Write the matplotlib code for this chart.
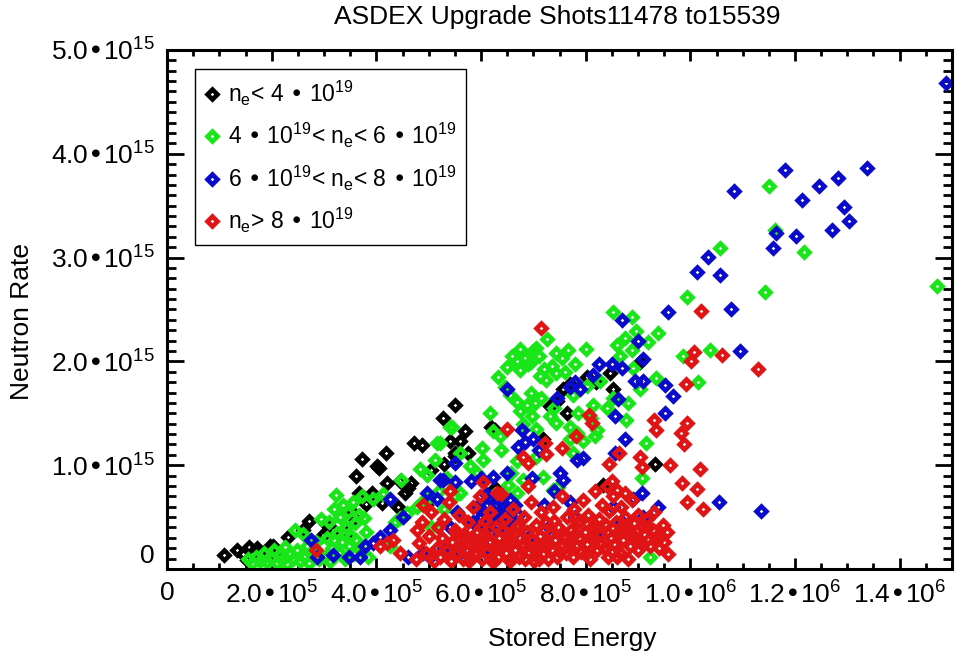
import matplotlib
matplotlib.use("Agg")
import matplotlib.pyplot as plt
import matplotlib.transforms as mtransforms
from matplotlib.ticker import FixedLocator, MultipleLocator, FixedFormatter

plt.rcParams['font.family'] = ['Liberation Sans', 'DejaVu Sans']
plt.rcParams['mathtext.default'] = 'regular'

# stored energy in units of 1e5, neutron rate in units of 1e15
black_w = [1.08, 1.33, 1.45, 1.52, 1.57, 1.71, 1.74, 1.90, 2.03, 2.06, 1.78, 1.97, 2.32, 2.60, 2.71,
           2.99, 3.04, 3.18, 3.43, 3.51, 3.59, 3.61, 3.73, 3.81, 4.01, 4.06, 4.10, 4.18, 4.20, 4.42,
           4.55, 4.61, 4.67, 4.71, 4.87, 3.67, 3.91, 4.45, 5.27, 5.50, 5.41, 5.50, 5.30, 5.50, 5.60,
           5.69, 5.76, 6.20, 6.27, 6.27, 7.19, 7.32, 7.57, 7.64, 8.02, 8.46, 8.53, 9.04, 9.32, 8.34,
           7.45, 7.70, 8.20, 5.05, 4.95]
black_n = [0.13, 0.18, 0.14, 0.09, 0.21, 0.20, 0.18, 0.17, 0.22, 0.15, 0.14, 0.22, 0.31, 0.38, 0.46,
           0.33, 0.43, 0.38, 0.35, 0.56, 0.48, 0.90, 1.06, 0.63, 0.99, 0.97, 0.64, 1.12, 0.83, 0.60,
           0.73, 0.78, 0.83, 1.21, 1.19, 0.73, 0.73, 0.85, 1.45, 1.58, 1.23, 1.09, 1.01, 1.12, 1.23,
           1.33, 1.12, 1.37, 1.34, 0.78, 1.25, 1.57, 1.73, 1.50, 1.85, 1.89, 1.73, 1.99, 1.01, 0.81,
           1.62, 1.78, 1.80, 0.95, 0.62]

green_w = [1.55, 1.62, 1.70, 1.78, 1.85, 1.92, 1.98, 2.05, 2.10, 2.15, 2.20, 2.25, 2.30, 2.35, 2.40,
           2.45, 2.48, 2.55, 2.60, 2.62, 2.68, 2.72, 2.78, 2.85, 2.90, 2.95,
           3.02, 3.06, 3.10, 3.12, 3.16, 3.20, 3.23, 3.25, 3.28, 3.30, 3.34, 3.36, 3.40, 3.42, 3.45,
           3.48, 3.52, 3.55, 3.58, 3.60, 3.62, 3.66, 3.70, 3.72, 3.76, 3.80, 3.85, 3.94, 4.12,
           4.26, 4.35, 4.45, 4.48, 4.58, 4.77, 4.83, 4.85, 4.96, 4.96, 5.05, 5.12, 5.15, 5.20, 5.30,
           5.35, 5.44, 5.50,
           6.33, 6.68, 6.84, 6.90, 6.74, 7.00, 7.06, 7.26, 7.13, 7.25, 7.44, 7.67, 8.00, 7.79, 7.44,
           6.68, 6.87, 7.03, 6.74, 6.97, 6.17, 6.23, 6.36, 6.01, 6.39, 6.04, 5.60, 5.41, 5.21, 7.32,
           7.44, 7.70, 7.83, 7.95, 8.14, 8.21, 8.18, 7.70, 7.76, 7.06, 6.68, 6.58, 6.81, 7.19, 7.38,
           6.52, 8.78, 8.53, 9.35, 9.16, 9.07, 9.23, 8.89, 8.53, 8.97, 9.39, 9.19, 8.59, 8.65, 8.91,
           9.04, 8.27, 8.02, 7.76, 8.75, 8.88, 5.79, 5.92, 5.60, 6.23, 6.68, 7.47,
           6.50, 6.60, 6.75, 6.95, 7.10, 7.20, 7.35, 7.55, 7.60, 6.45, 6.55, 6.95, 7.15, 7.40, 7.85,
           8.10, 8.40, 8.80, 6.80, 7.05,
           11.50, 11.61, 12.18, 10.57, 9.93, 11.43, 14.72, 10.37, 9.86, 10.14]
green_n = [0.10, 0.06, 0.12, 0.08, 0.15, 0.07, 0.11, 0.18, 0.06, 0.13, 0.09, 0.21, 0.05, 0.14, 0.10,
           0.38, 0.18, 0.08, 0.34, 0.12, 0.22, 0.06, 0.16, 0.26, 0.10, 0.48,
           0.12, 0.30, 0.45, 0.08, 0.20, 0.58, 0.71, 0.35, 0.15, 0.50, 0.26, 0.62, 0.10, 0.40, 0.55,
           0.22, 0.32, 0.65, 0.14, 0.44, 0.28, 0.52, 0.18, 0.70, 0.49, 0.36, 0.12, 0.67, 0.72,
           0.22, 0.45, 0.49, 0.86, 0.54, 0.60, 0.96, 0.64, 0.91, 0.67, 0.40, 1.05, 1.21, 0.75, 0.58,
           0.88, 1.37, 0.70,
           1.85, 2.00, 2.03, 1.97, 1.92, 2.10, 2.13, 2.22, 1.86, 1.82, 2.08, 2.11, 2.12, 1.97, 1.89,
           1.61, 1.58, 1.60, 1.52, 1.47, 1.50, 1.33, 1.28, 1.17, 1.15, 1.05, 1.12, 1.37, 1.21, 1.47,
           1.41, 1.37, 1.31, 1.23, 1.58, 1.34, 1.28, 1.25, 1.12, 1.08, 1.04, 0.92, 0.86, 0.89, 0.76,
           0.81, 1.44, 1.65, 1.84, 1.21, 0.88, 0.12, 2.43, 2.48, 2.29, 2.27, 2.19, 2.16, 2.05, 1.94,
           1.73, 1.81, 1.76, 1.68, 2.23, 2.11, 0.99, 0.92, 0.73, 0.70, 0.73, 0.79,
           1.95, 2.05, 2.12, 1.99, 2.05, 1.93, 1.96, 2.03, 1.90, 1.75, 1.68, 1.70, 1.65, 1.55, 1.50,
           1.45, 1.55, 1.60, 1.40, 1.35,
           3.69, 3.27, 3.05, 3.09, 2.62, 2.67, 2.73, 2.11, 2.05, 1.80]

blue_w = [2.76, 2.86, 3.18, 3.48, 3.69, 3.78, 3.94, 4.07, 4.26, 4.26, 4.51, 4.61, 4.90, 5.02, 5.28,
          5.50, 4.96, 5.15, 5.21, 5.50, 5.80, 6.00, 6.23, 6.49, 6.97, 7.50, 7.57, 8.91, 9.07, 9.39,
          8.53,
          5.85, 5.92, 6.00, 6.08, 6.12, 6.18, 6.25, 6.30, 6.38, 6.42, 6.50, 6.58, 6.65, 6.70, 6.20,
          6.45, 5.70, 5.55, 5.40, 6.05, 6.15, 6.28, 6.35, 6.55, 6.62, 6.10, 6.40, 7.20, 7.40,
          5.30, 5.60, 6.10, 6.90, 7.30, 7.80, 8.20, 8.70, 9.10, 7.70,
          6.79, 6.70, 6.85, 7.00, 7.10, 7.83, 7.95, 8.56, 8.75, 8.56, 9.51, 7.46, 8.62, 9.67, 9.51,
          8.94, 9.10, 7.70, 7.80, 7.90, 8.14, 8.26, 8.51, 8.70, 9.09, 9.00, 8.70, 9.58, 6.49,
          14.89, 11.80, 10.84, 12.46, 12.82, 13.38, 12.13, 12.93, 13.03, 12.70, 11.63, 12.02, 11.58,
          10.33, 10.12, 10.57, 10.77, 10.95, 10.54, 11.35]
blue_n = [0.28, 0.12, 0.13, 0.12, 0.12, 0.22, 0.25, 0.31, 0.38, 0.67, 0.50, 0.12, 0.15, 0.12, 0.86,
          1.02, 0.73, 0.67, 0.86, 0.84, 0.85, 0.88, 0.89, 0.92, 0.88, 0.92, 0.86, 0.67, 0.73, 0.60,
          0.60,
          0.45, 0.60, 0.50, 0.40, 0.62, 0.48, 0.55, 0.42, 0.65, 0.50, 0.58, 0.45, 0.62, 0.52, 0.35,
          0.38, 0.30, 0.55, 0.40, 0.55, 0.68, 0.62, 0.52, 0.66, 0.48, 0.72, 0.70, 0.62, 0.75,
          0.20, 0.15, 0.20, 0.30, 0.40, 0.50, 0.35, 0.45, 0.50, 0.65,
          1.34, 1.18, 1.22, 1.25, 1.15, 1.05, 1.07, 1.12, 1.25, 1.47, 1.50, 1.65, 1.64, 1.67, 1.77,
          1.81, 1.81, 1.75, 1.80, 1.73, 1.87, 1.97, 1.97, 1.94, 2.02, 2.20, 2.40, 2.48, 1.73,
          4.68, 3.84, 3.64, 3.69, 3.77, 3.86, 3.55, 3.49, 3.35, 3.27, 3.24, 3.21, 3.09,
          3.01, 2.86, 2.83, 2.50, 2.10, 0.65, 0.56]

red_w = [2.85, 4.07, 4.20, 4.32, 4.77, 4.45,
         4.75, 4.82, 4.88, 4.95, 5.00, 5.05, 5.10, 5.15, 5.18, 4.90,
         5.22, 5.25, 5.30, 5.35, 5.38, 5.42, 5.45, 5.50, 5.55, 5.58, 5.62, 5.65, 5.68, 5.40,
         5.72, 5.75, 5.78, 5.82, 5.85, 5.88, 5.92, 5.95, 5.98, 6.02, 6.05, 6.08, 6.12, 6.15, 6.18, 6.04,
         6.22, 6.25, 6.28, 6.32, 6.35, 6.38, 6.42, 6.45, 6.48, 6.52, 6.55, 6.58, 6.62, 6.65, 6.68, 6.30,
         6.72, 6.75, 6.78, 6.82, 6.85, 6.88, 6.92, 6.95, 6.98, 7.02, 7.05, 7.08, 7.12, 7.15, 7.18, 6.90,
         7.22, 7.25, 7.28, 7.32, 7.35, 7.38, 7.42, 7.45, 7.48, 7.52, 7.55, 7.58, 7.62, 7.65, 7.68,
         7.72, 7.75, 7.78, 7.82, 7.85, 7.88, 7.92, 7.95, 7.98, 8.02, 8.05, 8.08, 8.12, 8.15, 8.18,
         8.22, 8.25, 8.28, 8.32, 8.35, 8.38, 8.42, 8.45, 8.48, 8.52, 8.55, 8.58, 8.62, 8.65, 8.68,
         8.72, 8.76, 8.80, 8.85, 8.88, 8.92, 8.96, 9.00, 9.04, 9.08, 9.12, 9.18, 9.22, 9.28, 9.35,
         9.42, 9.48, 9.55, 9.30,
         5.52, 5.60, 5.70, 5.80, 5.90, 6.00, 6.10, 6.20, 6.30, 6.40, 6.50, 6.60, 6.70, 6.80, 7.00,
         7.10, 7.20, 7.30, 7.40, 7.50, 7.60, 7.70, 7.80, 7.90, 8.00, 8.10, 8.20, 8.30, 8.40, 8.50,
         8.60, 8.70, 8.80, 8.90, 9.00, 9.10, 9.20, 9.40, 9.50, 9.58,
         7.14, 6.49, 8.07, 8.13, 7.81, 9.31, 9.35, 7.22, 7.25, 7.54, 6.81, 6.90, 8.63, 9.04, 9.07,
         8.45, 9.61, 8.40, 8.60, 8.50, 8.75,
         10.21, 10.07, 10.02, 10.61, 11.30, 9.92, 9.93, 9.82, 9.88, 10.19, 9.84, 10.12, 9.93, 10.24]
red_n = [0.18, 0.22, 0.25, 0.28, 0.38, 0.15,
         0.10, 0.25, 0.45, 0.15, 0.32, 0.55, 0.08, 0.20, 0.40, 0.62,
         0.12, 0.30, 0.48, 0.18, 0.65, 0.08, 0.26, 0.38, 0.15, 0.52, 0.22, 0.10, 0.34, 0.75,
         0.18, 0.45, 0.08, 0.28, 0.60, 0.14, 0.36, 0.22, 0.70, 0.10, 0.30, 0.46, 0.16, 0.26, 0.55, 0.84,
         0.07, 0.20, 0.40, 0.12, 0.30, 0.72, 0.24, 0.48, 0.15, 0.34, 0.08, 0.26, 0.58, 0.18, 0.40, 0.73,
         0.12, 0.30, 0.22, 0.50, 0.10, 0.36, 0.16, 0.65, 0.28, 0.08, 0.42, 0.20, 0.32, 0.55, 0.14, 0.80,
         0.25, 0.45, 0.10, 0.35, 0.18, 0.60, 0.28, 0.12, 0.40, 0.22, 0.70, 0.32, 0.15, 0.50, 0.26,
         0.38, 0.12, 0.58, 0.22, 0.45, 0.30, 0.16, 0.66, 0.36, 0.24, 0.52, 0.10, 0.40, 0.28, 0.75,
         0.18, 0.48, 0.34, 0.62, 0.20, 0.42, 0.12, 0.56, 0.30, 0.70, 0.24, 0.45, 0.36, 0.15, 0.60,
         0.28, 0.50, 0.38, 0.22, 0.66, 0.44, 0.30, 0.52, 0.26, 0.40, 0.34, 0.48, 0.22, 0.38, 0.30,
         0.31, 0.42, 0.36, 0.55,
         0.35, 0.20, 0.30, 0.12, 0.25, 0.40, 0.33, 0.10, 0.22, 0.38, 0.28, 0.12, 0.42, 0.24, 0.20,
         0.10, 0.38, 0.24, 0.46, 0.16, 0.30, 0.20, 0.34, 0.46, 0.14, 0.30, 0.40, 0.24, 0.36, 0.16,
         0.12, 0.38, 0.10, 0.32, 0.18, 0.24, 0.40, 0.20, 0.26, 0.14,
         2.32, 1.35, 1.48, 1.41, 1.28, 1.44, 1.34, 1.21, 1.11, 1.17, 1.08, 1.02, 1.12, 1.08, 0.98,
         1.01, 1.00, 0.80, 0.76, 0.85, 0.73,
         2.49, 2.09, 2.00, 2.06, 1.93, 1.78, 1.41, 1.31, 1.20, 0.96, 0.83, 0.77, 0.65, 0.58]

labels = ['n$_e$< 4 • 10$^{19}$',
          '4 • 10$^{19}$< n$_e$< 6 • 10$^{19}$',
          '6 • 10$^{19}$< n$_e$< 8 • 10$^{19}$',
          'n$_e$> 8 • 10$^{19}$']
colors = ['#000000', '#19e619', '#0a0acd', '#e01414']

x_ticks = [0, 2e5, 4e5, 6e5, 8e5, 1e6, 1.2e6, 1.4e6]
x_labels = ['0', '2.0•10$^{5}$', '4.0•10$^{5}$', '6.0•10$^{5}$', '8.0•10$^{5}$',
            '1.0•10$^{6}$', '1.2•10$^{6}$', '1.4•10$^{6}$']
y_ticks = [0, 1e15, 2e15, 3e15, 4e15, 5e15]
y_labels = ['0', '1.0•10$^{15}$', '2.0•10$^{15}$', '3.0•10$^{15}$', '4.0•10$^{15}$', '5.0•10$^{15}$']

fig = plt.figure(figsize=(9.66, 6.61), dpi=100)
ax = fig.add_axes([0.1729, 0.1392, 0.8126, 0.7852])

series = [(black_w, black_n), (green_w, green_n), (blue_w, blue_n), (red_w, red_n)]
for (w, n), c, lab in zip(series, colors, labels):
    ax.plot([v * 1e5 for v in w], [v * 1e15 for v in n], linestyle='none', marker='D',
            markersize=5.4, markeredgewidth=3.3, markerfacecolor='none',
            markeredgecolor=c, label=lab)

ax.set_xlim(0, 1.5e6)
ax.set_ylim(0, 5e15)
ax.xaxis.set_major_locator(FixedLocator(x_ticks))
ax.xaxis.set_major_formatter(FixedFormatter(x_labels))
ax.xaxis.set_minor_locator(MultipleLocator(5e4))
ax.yaxis.set_major_locator(FixedLocator(y_ticks))
ax.yaxis.set_major_formatter(FixedFormatter(y_labels))
ax.yaxis.set_minor_locator(MultipleLocator(1e14))

ax.tick_params(axis='both', which='both', direction='in', top=True, right=True,
               width=2.0, labelsize=19, colors='black')
ax.tick_params(axis='x', which='major', length=8, pad=9)
ax.tick_params(axis='x', which='minor', length=4.5)
ax.tick_params(axis='y', which='major', length=12, pad=9)
ax.tick_params(axis='y', which='minor', length=6.5)
for s in ax.spines.values():
    s.set_linewidth(2.2)

# the "0" label on the y axis sits a little above its tick
zero_tick = ax.yaxis.get_major_ticks()[0]
zero_tick.label1.set_transform(zero_tick.label1.get_transform() +
                               mtransforms.ScaledTranslation(0, 0.15, fig.dpi_scale_trans))

ax.set_xlabel('Stored Energy', fontsize=19)
ax.xaxis.set_label_coords(0.516, -0.112)
ax.set_ylabel('Neutron Rate', fontsize=19)
ax.yaxis.set_label_coords(-0.170, 0.477)
ax.text(0.497, 1.063, 'ASDEX Upgrade Shots11478 to15539', transform=ax.transAxes,
        ha='center', va='center', fontsize=19)

leg = ax.legend(loc='upper left', bbox_to_anchor=(0.0357, 0.963), borderaxespad=0,
                fontsize=16.5, fancybox=False, framealpha=1, edgecolor='black',
                handlelength=0.6, handletextpad=0.4, labelspacing=0.58, borderpad=0.42,
                markerscale=1.0)
leg.get_frame().set_linewidth(1.0)

fig.savefig('out.png', dpi=100)
